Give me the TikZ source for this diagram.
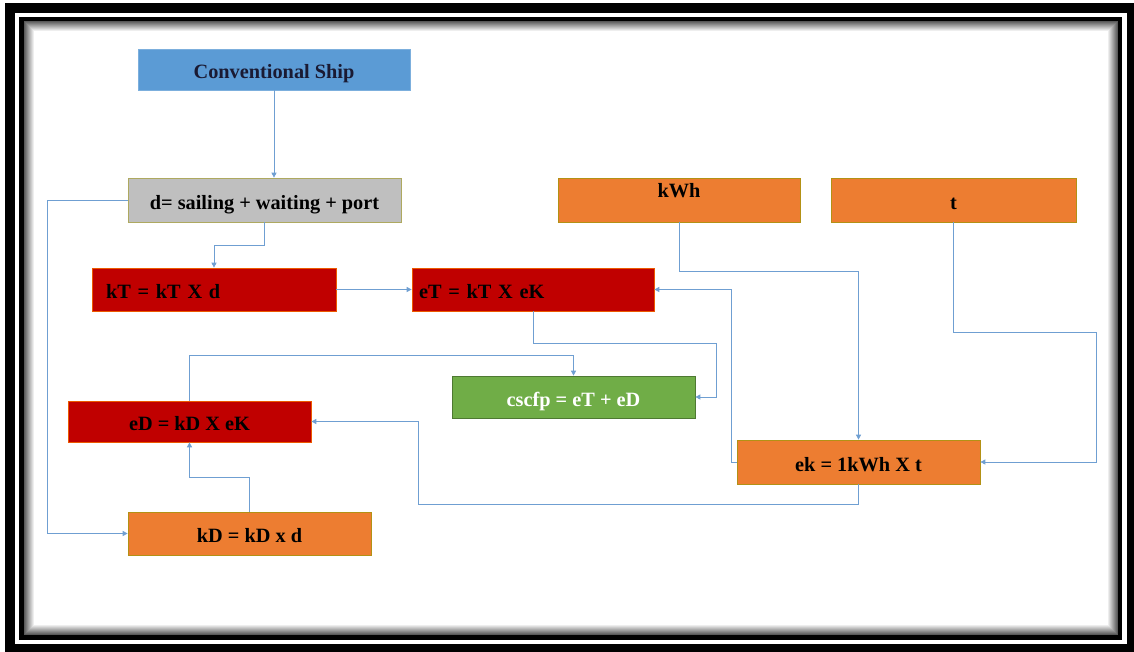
\documentclass[tikz,border=0pt]{standalone}
\usepackage{fontspec}
\setmainfont{Liberation Serif}
\usetikzlibrary{arrows.meta,calc}

\definecolor{shipblue}{HTML}{5B9BD5}
\definecolor{distgray}{HTML}{BFBFBF}
\definecolor{darkred}{HTML}{C00000}
\definecolor{sumgreen}{HTML}{70AD47}
\definecolor{paleorange}{HTML}{ED7D31}
\definecolor{linkblue}{HTML}{6F9FD2}
\definecolor{navytext}{HTML}{1A1A33}

\tikzset{
  box/.style={rectangle, inner sep=0pt, line width=0.7pt,
    text height=18.5pt, text depth=0pt,
    font=\fontsize{20.3}{24}\selectfont\bfseries, text=black},
  bluebox/.style={box, fill=shipblue, draw=shipblue!80!white, text=navytext},
  graybox/.style={box, fill=distgray, draw=olive!45!distgray},
  redbox/.style={box, fill=darkred, draw=orange!70!darkred},
  orangebox/.style={box, fill=paleorange, draw=olive!60!paleorange},
  greenbox/.style={box, fill=sumgreen, draw=sumgreen!70!black, text=white},
  link/.style={draw=linkblue, line width=0.8pt,
    -{Triangle[width=5pt,length=5pt]}},
}

\begin{document}
\begin{tikzpicture}[x=1pt,y=-1pt]
  % page and double frame
  \useasboundingbox (0,0) rectangle (1134,652);
  \fill[white] (0,0) rectangle (1134,652);
  \fill[black] (5,3) rectangle (1134,652);
  \fill[white] (15,13) rectangle (1127,644);
  \fill[black] (19,17) rectangle (1122,640);
  \fill[white] (24,21) rectangle (1118,635);
  % inner shadow of the panel
  \foreach \i in {0,...,9} {
    \pgfmathsetmacro{\shade}{65-6.5*\i}
    \draw[black!\shade, line width=1pt]
      (24.5+\i,21.5+\i) rectangle (1117.5-\i,634.5-\i);
  }

  % boxes
  \node[bluebox, minimum width=272pt, minimum height=41pt] (ship) at (274,69.5) {Conventional Ship};
  \node[graybox, minimum width=273pt, minimum height=44pt] (dist) at (264.5,200) {d= sailing + waiting + port};
  \node[redbox, text width=216pt, align=left, inner xsep=14pt, minimum height=43pt] (kT) at (214,289.5) {kT = kT X d};
  \node[redbox, text width=228pt, align=left, inner xsep=7pt, minimum height=43pt] (eT) at (533,289.5) {eT = kT X eK};
  \node[greenbox, minimum width=243pt, minimum height=42pt] (cscfp) at (573.5,397) {cscfp = eT + eD};
  \node[redbox, minimum width=243pt, minimum height=41pt] (eD) at (189.5,421.5) {eD = kD X eK};
  \node[orangebox, minimum width=243pt, minimum height=43pt] (kD) at (249.5,533.5) {kD = kD x d};
  \node[orangebox, minimum width=242pt, minimum height=44pt, text height=18.5pt, text depth=22.5pt] (kWh) at (679,200) {kWh};
  \node[orangebox, minimum width=245pt, minimum height=44pt, text height=20pt, text depth=0pt] (t) at (953.5,200) {t};
  \node[orangebox, minimum width=243pt, minimum height=44pt] (ek) at (858.5,462) {ek = 1kWh X t};

  % connectors
  \draw[link] (ship.south) -- (ship.south |- dist.north);
  \draw[link] (dist.south) -- ++(0,23) -| (kT.north);
  \draw[link] (kT.east) -- (eT.west);
  \draw[link] (eT.south) -- ++(0,32) -| ([xshift=21pt]cscfp.east) -- (cscfp.east);
  \draw[link] (eD.north) -- ++(0,-45) -| (cscfp.north);
  \draw[link] (kD.north) -- ++(0,-34) -| (eD.south);
  \draw[link] (dist.west) -- ++(-80,0) |- (kD.west);
  \draw[link] (kWh.south) -- ++(0,49) -| (ek.north);
  \draw[link] (t.south) -- ++(0,110) -| ([xshift=116pt]ek.east) -- (ek.east);
  \draw[link] (ek.west) -- ++(-5,0) |- (eT.east);
  \draw[link] (ek.south) -- ++(0,20) -| ([xshift=107pt]eD.east) -- (eD.east);
\end{tikzpicture}
\end{document}
